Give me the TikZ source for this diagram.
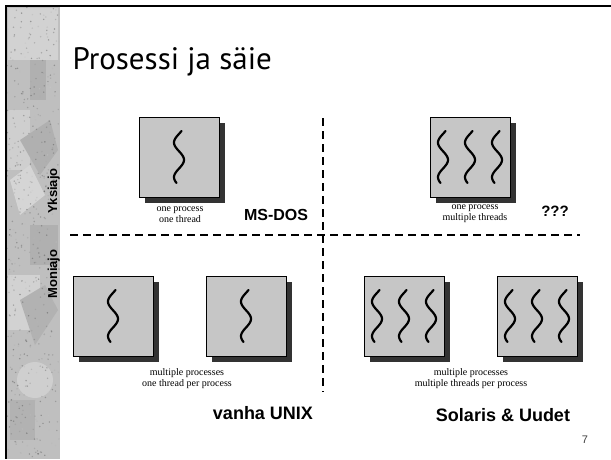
\documentclass[tikz,border=0pt]{standalone}
\usepackage{fontspec}
\setmainfont{Liberation Serif}
\newfontfamily\labelfont{Liberation Sans}
\newfontfamily\titlefont{PT Sans}
\usetikzlibrary{shadows}

\tikzset{
	procbox/.style={draw=black, line width=0.8pt, fill=gray!45, minimum size=80pt, inner sep=0pt,
		general shadow={fill=black!80, shadow xshift=6pt, shadow yshift=-6pt}},
	threadline/.style={line width=2.2pt, line cap=round, black},
	thread/.pic={\draw[threadline] plot[domain=0:1, samples=40, smooth] ({-5*sin(540*\x-30)},{-26+52*\x});},
	divider/.style={line width=2pt, dash pattern=on 8pt off 5pt},
	caption/.style={font=\fontsize{10}{11}\selectfont, align=center},
	oslabel/.style={font=\labelfont\bfseries\fontsize{18}{20}\selectfont},
	sidelabel/.style={font=\labelfont\bfseries\fontsize{13}{14}\selectfont, rotate=90, anchor=base}
}

\begin{document}
\begin{tikzpicture}[x=1pt, y=-1pt]
	\useasboundingbox (0,0) rectangle (611,459);
	
	% Left strip
	\fill[gray!50] (6,6) rectangle (60,459);
	\fill[gray!35] (8,8) rectangle (58,60);
	\fill[gray!70] (38,70) circle (6);
	\fill[gray!62] (30,60) rectangle (46,100);
	\fill[gray!38] (8,110) rectangle (30,170);
	\fill[gray!62] (20,140) -- (50,120) -- (58,150) -- (40,175) -- cycle;
	\fill[gray!33] (10,180) -- (30,165) -- (45,195) -- (20,215) -- cycle;
	\fill[gray!62] (30,225) rectangle (58,265);
	\fill[gray!35] (8,275) rectangle (40,330);
	\fill[gray!60] (20,300) -- (45,285) -- (58,310) -- (35,345) -- cycle;
	\fill[gray!38] (35,380) circle (18);
	\fill[gray!60] (10,400) rectangle (35,440);
	\pgfmathsetseed{7}
	\foreach \i in {1,...,500} {
		\pgfmathsetmacro\sx{7+52*rnd}
		\pgfmathsetmacro\sy{7+450*rnd}
		\pgfmathsetmacro\sg{20+60*rnd}
		\fill[black!\sg, opacity=0.4] (\sx,\sy) circle (0.8);
	}
	
	% Frame
	\draw[line width=2.5pt] (611,6) -- (6,6) -- (6,459);
	
	% Title
	\node[font=\titlefont\fontsize{31}{33}\selectfont, anchor=base west] (title) at (69,69) {Prosessi ja säie};
	
	% Side labels
	\node[sidelabel] (yksi) at (57,191) {Yksiajo};
	\node[sidelabel] (moni) at (57,274) {Moniajo};
	
	% Dividers
	\draw[divider] (70,235) -- (580,235);
	\draw[divider] (323,118) -- (323,392);
	
	% Boxes
	\node[procbox] (pA) at (179,157) {};
	\node[procbox] (pB) at (470,157) {};
	\node[procbox] (pC) at (113,316) {};
	\node[procbox] (pD) at (246,316) {};
	\node[procbox] (pE) at (404,316) {};
	\node[procbox] (pF) at (537,316) {};
	
	% Threads
	\foreach \p in {pA, pC, pD} {
		\pic at (\p) {thread};
	}
	\foreach \p in {pB, pE, pF} {
		\foreach \dx in {-27,0,27} {
			\pic[xshift=\dx pt] at (\p) {thread};
		}
	}
	
	% Captions
	\node[caption] (capA) at (180,215) {one process\\one thread};
	\node[caption] (capB) at (475,214) {one process\\multiple threads};
	\node[caption] (capCD) at (187,379) {multiple processes\\one thread per process};
	\node[caption] (capEF) at (471,379) {multiple processes\\multiple threads per process};
	
	% Labels
	\node[oslabel, font=\labelfont\bfseries\fontsize{16}{18}\selectfont] (msdos) at (276,215) {MS-DOS};
	\node[oslabel, font=\labelfont\bfseries\fontsize{15}{18}\selectfont] (qqq) at (555,211) {???};
	\node[oslabel] (unix) at (263,413) {vanha UNIX};
	\node[oslabel] (solaris) at (503,415) {Solaris \& Uudet};
	\node[font=\labelfont\fontsize{11}{12}\selectfont, text=black!75] (page) at (585,440) {7};
\end{tikzpicture}
\end{document}
